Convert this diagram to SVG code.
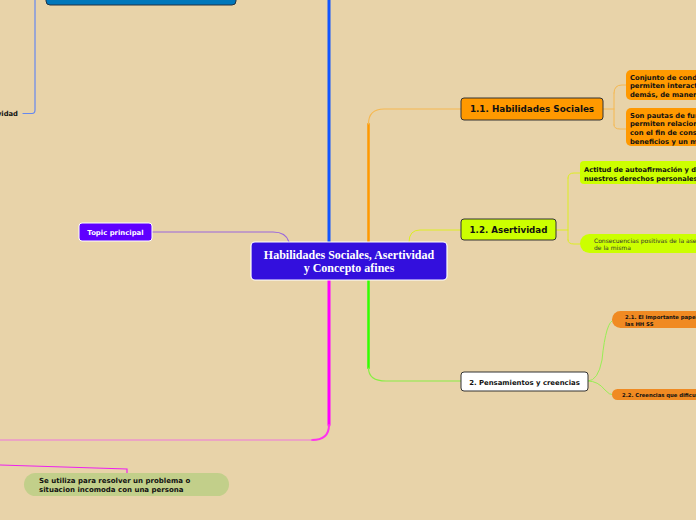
<svg xmlns="http://www.w3.org/2000/svg" width="696" height="520" viewBox="0 0 696 520">
<style>
.sans{font-family:"DejaVu Sans",Verdana,sans-serif;font-weight:bold;fill:#111}
.nb{stroke:#333;stroke-width:1}
.ln{fill:none;stroke-linecap:round}
</style>
<rect width="696" height="520" fill="#E8D3A9"/>
<g id="connectors">
  <path class="ln" d="M329,242 V0" stroke="#1155ff" stroke-width="3"/>
  <path class="ln" d="M329,280 V425" stroke="#ff00ff" stroke-width="3"/>
  <path class="ln" d="M329,425 Q329,440 312,440" stroke="#ff33ee" stroke-width="2"/>
  <path class="ln" d="M312,440 H0" stroke="#ee77dd" stroke-width="1.2"/>
  <path class="ln" d="M368.5,242 V124" stroke="#ff9900" stroke-width="2.5"/>
  <path class="ln" d="M368.5,124 Q368.5,109 384,109 H461" stroke="#f6b850" stroke-width="1.2"/>
  <path class="ln" d="M409,242 Q409,230 420,230 H461" stroke="#ddee22" stroke-width="1"/>
  <path class="ln" d="M368.5,280 V368" stroke="#33ff00" stroke-width="2.5"/>
  <path class="ln" d="M368.5,368 Q368.5,381 386,381 H461" stroke="#88ee44" stroke-width="1.2"/>
  <path class="ln" d="M152,232 H273 Q286,232 289,242" stroke="#9966dd" stroke-width="1.2"/>
  <path class="ln" d="M23,113.5 H32 Q35,113.5 35,110 V0" stroke="#6688ee" stroke-width="1.2"/>
  <path class="ln" d="M0,465 L127,469 V473" stroke="#ee22ee" stroke-width="1.2"/>
  <path class="ln" d="M603,109 H614 M614,93 V125 M614,93 Q614,85 622,85 H626 M614,125 Q614,129 620,129 H626" stroke="#f6b850" stroke-width="1"/>
  <path class="ln" d="M556,230 H568 M568,178 V240 M568,178 Q568,173 574,173 H580 M568,240 Q568,244 574,244 H582" stroke="#ddee22" stroke-width="1"/>
  <path class="ln" d="M588,381 Q598,381 602,360 Q606,320 614,320 M588,381 Q598,381 605,390 Q609,395 614,395" stroke="#99ee55" stroke-width="1"/>
</g>
<g id="top-box">
  <rect x="46" y="-20" width="190" height="25" rx="4" fill="#0077bb" stroke="#223344" stroke-width="1"/>
</g>
<g id="asertividad-left">
  <text class="sans" x="18" y="116" font-size="6.8" text-anchor="end">Asertividad</text>
</g>
<g id="central">
  <rect x="251" y="242" width="196" height="38" rx="4" fill="#330fdd" stroke="#ffffff" stroke-width="1.2"/>
  <text x="349" y="258.5" font-family="'Liberation Serif','Times New Roman',serif" font-weight="bold" font-size="12" fill="#ffffff" text-anchor="middle">Habilidades Sociales, Asertividad</text>
  <text x="349" y="271.5" font-family="'Liberation Serif','Times New Roman',serif" font-weight="bold" font-size="12" fill="#ffffff" text-anchor="middle">y Concepto afines</text>
</g>
<g id="topic-principal">
  <rect x="79" y="223" width="73" height="18" rx="3" fill="#5f00ff" stroke="#ffffff" stroke-width="1"/>
  <text class="sans" x="115.5" y="234.8" font-size="6.9" text-anchor="middle" style="fill:#ffffff">Topic principal</text>
</g>
<g id="se-utiliza">
  <rect x="24" y="473" width="205" height="23" rx="11.5" fill="#c2cf8a"/>
  <text class="sans" x="39" y="483" font-size="7">Se utiliza para resolver un problema o</text>
  <text class="sans" x="39" y="492" font-size="7">situacion incomoda con una persona</text>
</g>
<g id="n11">
  <rect class="nb" x="461" y="98" width="142" height="22" rx="3" fill="#ff9900"/>
  <text class="sans" x="532" y="112.2" font-size="8.8" text-anchor="middle">1.1. Habilidades Sociales</text>
</g>
<g id="n11a">
  <rect x="626" y="70" width="90" height="30" rx="5" fill="#ff9900"/>
  <text class="sans" x="630" y="79.5" font-size="6.8">Conjunto de conductas</text>
  <text class="sans" x="630" y="88.3" font-size="6.8">permiten interactuar</text>
  <text class="sans" x="630" y="97" font-size="6.8">demás, de manera</text>
</g>
<g id="n11b">
  <rect x="626" y="108" width="90" height="38" rx="5" fill="#ff9900"/>
  <text class="sans" x="630" y="117.5" font-size="6.8">Son pautas de funcionamiento</text>
  <text class="sans" x="630" y="126.2" font-size="6.8">permiten relacionarnos</text>
  <text class="sans" x="630" y="134.9" font-size="6.8">con el fin de conseguir</text>
  <text class="sans" x="630" y="143.6" font-size="6.8">beneficios y un mínimo</text>
</g>
<g id="n12">
  <rect class="nb" x="461" y="219" width="95" height="21" rx="3" fill="#ccff00"/>
  <text class="sans" x="508.5" y="233" font-size="8.7" text-anchor="middle">1.2. Asertividad</text>
</g>
<g id="n12a">
  <rect x="580" y="161" width="130" height="23" rx="4" fill="#ccff00"/>
  <text class="sans" x="584" y="172" font-size="6.7">Actitud de autoafirmación y defensa</text>
  <text class="sans" x="584" y="180.5" font-size="6.7">nuestros derechos personales</text>
</g>
<g id="n12b">
  <rect x="580" y="234" width="130" height="19" rx="9.5" fill="#ccff00"/>
  <text x="594" y="242.5" font-family="'DejaVu Sans',Verdana,sans-serif" font-size="6" fill="#333">Consecuencias positivas de la asertividad</text>
  <text x="594" y="250" font-family="'DejaVu Sans',Verdana,sans-serif" font-size="6" fill="#333">de la misma</text>
</g>
<g id="n2">
  <rect class="nb" x="461" y="372" width="127" height="19" rx="3" fill="#ffffff"/>
  <text class="sans" x="524.5" y="384.5" font-size="6.9" text-anchor="middle">2. Pensamientos y creencias</text>
</g>
<g id="n21">
  <rect x="612" y="311" width="100" height="17" rx="8.5" fill="#f08a22"/>
  <text class="sans" x="625" y="318.5" font-size="5.3">2.1. El importante papel de</text>
  <text class="sans" x="625" y="325.5" font-size="5.3">las HH SS</text>
</g>
<g id="n22">
  <rect x="612" y="389" width="100" height="11" rx="5.5" fill="#f08a22"/>
  <text class="sans" x="622" y="396.8" font-size="5.3">2.2. Creencias que dificultan</text>
</g>
</svg>
